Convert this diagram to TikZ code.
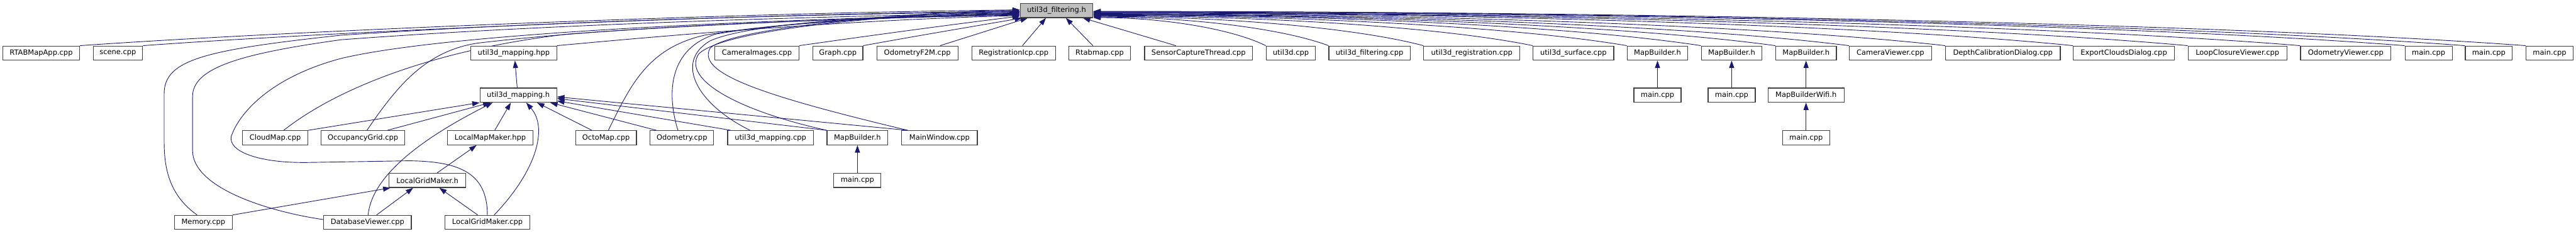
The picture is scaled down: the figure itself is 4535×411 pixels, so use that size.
\documentclass[tikz,border=0pt]{standalone}
\usepackage{fontspec}
\setmainfont{DejaVu Sans}
\usetikzlibrary{arrows.meta,backgrounds}
\definecolor{edgec}{HTML}{191970}
\definecolor{bordc}{HTML}{404040}
\definecolor{rootc}{HTML}{BFBFBF}
\tikzset{
 box/.style={draw=bordc, line width=1.3pt, fill=white, minimum height=25pt, inner sep=0pt, font=\fontsize{12.7}{15}\selectfont, text=black},
 rootbox/.style={box, fill=rootc},
 edge/.style={draw=edgec, line width=1pt, -{Triangle[length=13pt,width=9pt]}},
}
\begin{document}
\begin{tikzpicture}[x=1pt,y=-1pt]
\useasboundingbox (0,0) rectangle (4535,411);
% row 1
\node[rootbox, minimum width=128pt] (F) at (1860,18.5) {util3d\_filtering.h};
% row 2
\node[box, minimum width=135pt] (rtab) at (72.5,93.5) {RTABMapApp.cpp};
\node[box, minimum width=87pt] (scene) at (207.5,93.5) {scene.cpp};
\node[box, minimum width=151pt] (mhpp) at (904.5,93.5) {util3d\_mapping.hpp};
\node[box, minimum width=148pt] (camimg) at (1332.5,93.5) {CameraImages.cpp};
\node[box, minimum width=88pt] (graph) at (1475,93.5) {Graph.cpp};
\node[box, minimum width=143pt] (odomf2m) at (1615,93.5) {OdometryF2M.cpp};
\node[box, minimum width=147pt] (regicp) at (1784.5,93.5) {RegistrationIcp.cpp};
\node[box, minimum width=109pt] (rtabmap) at (1936,93.5) {Rtabmap.cpp};
\node[box, minimum width=190pt] (sensor) at (2110,93.5) {SensorCaptureThread.cpp};
\node[box, minimum width=87pt] (u3d) at (2272.5,93.5) {util3d.cpp};
\node[box, minimum width=143pt] (u3dfilt) at (2411,93.5) {util3d\_filtering.cpp};
\node[box, minimum width=169pt] (u3dreg) at (2591,93.5) {util3d\_registration.cpp};
\node[box, minimum width=142pt] (u3dsurf) at (2770,93.5) {util3d\_surface.cpp};
\node[box, minimum width=107pt] (mb1) at (2918,93.5) {MapBuilder.h};
\node[box, minimum width=107pt] (mb2) at (3048.5,93.5) {MapBuilder.h};
\node[box, minimum width=107pt] (mb3) at (3179.5,93.5) {MapBuilder.h};
\node[box, minimum width=145pt] (camview) at (3328,93.5) {CameraViewer.cpp};
\node[box, minimum width=202pt] (depth) at (3526,93.5) {DepthCalibrationDialog.cpp};
\node[box, minimum width=178pt] (export) at (3739,93.5) {ExportCloudsDialog.cpp};
\node[box, minimum width=174pt] (loop) at (3939,93.5) {LoopClosureViewer.cpp};
\node[box, minimum width=159pt] (odomview) at (4129.5,93.5) {OdometryViewer.cpp};
\node[box, minimum width=83pt] (main1) at (4275.5,93.5) {main.cpp};
\node[box, minimum width=83pt] (main2) at (4381.5,93.5) {main.cpp};
\node[box, minimum width=83pt] (main3) at (4488.5,93.5) {main.cpp};
% row 3
\node[box, minimum width=135pt] (mh) at (912.5,167.5) {util3d\_mapping.h};
\node[box, minimum width=83pt] (mainA) at (2918,167.5) {main.cpp};
\node[box, minimum width=83pt] (mainB) at (3048.5,167.5) {main.cpp};
\node[box, minimum width=134pt] (wifi) at (3179.5,167.5) {MapBuilderWifi.h};
% row 4
\node[box, minimum width=115pt] (cloud) at (484.5,242.5) {CloudMap.cpp};
\node[box, minimum width=147pt] (occ) at (639,242.5) {OccupancyGrid.cpp};
\node[box, minimum width=151pt] (lmm) at (863,242.5) {LocalMapMaker.hpp};
\node[box, minimum width=107pt] (octo) at (1067,242.5) {OctoMap.cpp};
\node[box, minimum width=112pt] (odom) at (1200.5,242.5) {Odometry.cpp};
\node[box, minimum width=151pt] (mcpp) at (1356.5,242.5) {util3d\_mapping.cpp};
\node[box, minimum width=107pt] (mb4) at (1509.5,242.5) {MapBuilder.h};
\node[box, minimum width=133pt] (mainwin) at (1654,242.5) {MainWindow.cpp};
\node[box, minimum width=83pt] (mainC) at (3179.5,242.5) {main.cpp};
% row 5
\node[box, minimum width=135pt] (lgmh) at (752.5,317.5) {LocalGridMaker.h};
\node[box, minimum width=83pt] (mainD) at (1509.5,317.5) {main.cpp};
% row 6
\node[box, minimum width=102pt] (memory) at (358,391.5) {Memory.cpp};
\node[box, minimum width=154pt] (dbv) at (647,391.5) {DatabaseViewer.cpp};
\node[box, minimum width=150pt] (lgmc) at (858,391.5) {LocalGridMaker.cpp};

\begin{scope}[on background layer]
% ---- edges into util3d_filtering.h from the left
\draw[edge] (rtab.north east) .. controls (500,55) and (1300,22) .. ([yshift=1pt]F.west);
\draw[edge] (scene.north east) .. controls (600,55) and (1300,25) .. ([yshift=-1pt]F.west);
\draw[edge] ([xshift=-11pt]memory.north) .. controls (300,345) and (289,300) .. (289,250) -- (289,165) .. controls (289,105) and (360,88) .. (600,62) .. controls (1000,35) and (1500,24) .. ([yshift=-2pt]F.west);
\draw[edge] ([yshift=5pt]dbv.west) .. controls (470,372) and (339,330) .. (339,265) -- (339,170) .. controls (339,120) and (420,95) .. (600,70) .. controls (1000,40) and (1500,28) .. ([yshift=-4pt]F.west);
\draw[edge] (lgmc.north) .. controls (858,305) and (810,284) .. (720,283) -- (540,286) .. controls (445,287) and (395,262) .. (409,235) .. controls (425,195) and (480,135) .. (600,103) .. controls (800,55) and (1400,33) .. ([yshift=-6pt]F.west);
\draw[edge] ([xshift=15pt]cloud.north) .. controls (600,150) and (780,85) .. (1000,60) .. controls (1300,38) and (1600,30) .. ([yshift=-7pt]F.west);
\draw[edge] ([xshift=7pt]occ.north) .. controls (700,150) and (750,90) .. (840,76) .. controls (1100,45) and (1500,32) .. ([yshift=-8pt]F.west);
\draw[edge] (mhpp.north east) .. controls (1200,60) and (1500,35) .. ([yshift=-9pt]F.west);
\draw[edge] ([xshift=4pt]octo.north) .. controls (1110,150) and (1140,85) .. (1240,62) .. controls (1400,35) and (1650,26) .. ([yshift=-5pt]F.west);
\draw[edge] ([xshift=-7pt]odom.north) .. controls (1172,160) and (1180,85) .. (1260,60) .. controls (1400,36) and (1650,27) .. ([yshift=-6pt]F.west);
\draw[edge] ([xshift=-36pt]mcpp.north) .. controls (1230,185) and (1185,110) .. (1250,72) .. controls (1330,35) and (1650,24) .. ([yshift=-3pt]F.west);
\draw[edge] (mb4.north west) .. controls (1300,195) and (1200,140) .. (1230,95) .. controls (1280,45) and (1650,22) .. ([yshift=-1pt]F.west);
\draw[edge] ([xshift=-56pt]mainwin.north) .. controls (1350,170) and (1225,130) .. (1250,85) .. controls (1290,45) and (1650,20) .. ([yshift=1pt]F.west);
\draw[edge] (camimg.north east) .. controls (1550,60) and (1700,40) .. ([yshift=-10pt]F.west);
\draw[edge] (graph.north east) .. controls (1620,62) and (1740,42) .. ([xshift=4pt]F.south west);
% ---- from below
\draw[edge] ([xshift=40pt]odomf2m.north) -- ([xshift=14pt]F.south west);
\draw[edge] ([xshift=15.5pt]regicp.north) -- ([xshift=46pt]F.south west);
\draw[edge] ([xshift=-12pt]rtabmap.north) -- ([xshift=81pt]F.south west);
\draw[edge] ([xshift=-40pt]sensor.north) -- ([xshift=111pt]F.south west);
% ---- from the right
\draw[edge] (u3d.north west) .. controls +(-61,-30) and +(122,0) .. ([yshift=-12.5pt]F.east);
\draw[edge] (u3dfilt.north west) .. controls +(-83,-31) and +(166,0) .. ([yshift=-11.5pt]F.east);
\draw[edge] (u3dreg.north west) .. controls +(-117,-31) and +(233,0) .. ([yshift=-10.5pt]F.east);
\draw[edge] (u3dsurf.north west) .. controls +(-155,-32) and +(310,0) .. ([yshift=-9.5pt]F.east);
\draw[edge] (mb1.north west) .. controls +(-188,-32) and +(376,0) .. ([yshift=-8.5pt]F.east);
\draw[edge] (mb2.north west) .. controls +(-214,-33) and +(428,0) .. ([yshift=-7.5pt]F.east);
\draw[edge] (mb3.north west) .. controls +(-240,-33) and +(481,0) .. ([yshift=-7pt]F.east);
\draw[edge] (camview.north west) .. controls +(-266,-34) and +(533,0) .. ([yshift=-6.5pt]F.east);
\draw[edge] (depth.north west) .. controls +(-300,-34) and +(600,0) .. ([yshift=-5.5pt]F.east);
\draw[edge] (export.north west) .. controls +(-345,-35) and +(690,0) .. ([yshift=-4.5pt]F.east);
\draw[edge] (loop.north west) .. controls +(-386,-35) and +(771,0) .. ([yshift=-4pt]F.east);
\draw[edge] (odomview.north west) .. controls +(-425,-35) and +(850,0) .. ([yshift=-3.5pt]F.east);
\draw[edge] (main1.north west) .. controls +(-462,-36) and +(924,0) .. ([yshift=-2.5pt]F.east);
\draw[edge] (main2.north west) .. controls +(-483,-36) and +(966,0) .. ([yshift=-2pt]F.east);
\draw[edge] (main3.north west) .. controls +(-505,-37) and +(1009,0) .. ([yshift=-1.5pt]F.east);
% ---- util3d_mapping.h / .hpp
\draw[edge] ([xshift=-2pt]mh.north) -- ([xshift=2pt]mhpp.south);
\draw[edge] (cloud.north east) -- (mh.south west);
\draw[edge] ([xshift=43pt]occ.north) -- ([xshift=19pt]mh.south west);
\draw[edge] ([xshift=1pt]dbv.north) .. controls (655,310) and (740,245) .. ([xshift=23pt]mh.south west);
\draw[edge] ([xshift=8pt]lmm.north) -- ([xshift=55pt]mh.south west);
\draw[edge] ([xshift=12pt]lgmc.north) .. controls (945,300) and (965,225) .. ([xshift=82pt]mh.south west);
\draw[edge] ([xshift=-25pt]octo.north) -- ([xshift=101pt]mh.south west);
\draw[edge] ([xshift=-45pt]odom.north) -- ([xshift=-12pt]mh.south east);
\draw[edge] ([xshift=-70pt]mcpp.north) -- ([yshift=3pt]mh.south east);
\draw[edge] (mb4.north west) -- ([yshift=-6pt]mh.east);
\draw[edge] ([xshift=-56pt]mainwin.north) -- ([yshift=-3pt]mh.east);
% ---- local grid / map maker
\draw[edge] ([xshift=17pt]lgmh.north) -- ([xshift=-24pt]lmm.south);
\draw[edge] (memory.north east) -- ([xshift=3pt]lgmh.south west);
\draw[edge] ([xshift=16pt]dbv.north) -- ([xshift=43pt]lgmh.south west);
\draw[edge] ([xshift=-17pt]lgmc.north) -- ([xshift=89pt]lgmh.south west);
% ---- verticals
\draw[edge] (mainD.north) -- (mb4.south);
\draw[edge] (mainA.north) -- (mb1.south);
\draw[edge] (mainB.north) -- (mb2.south);
\draw[edge] (wifi.north) -- (mb3.south);
\draw[edge] (mainC.north) -- (wifi.south);
\end{scope}
\end{tikzpicture}
\end{document}
